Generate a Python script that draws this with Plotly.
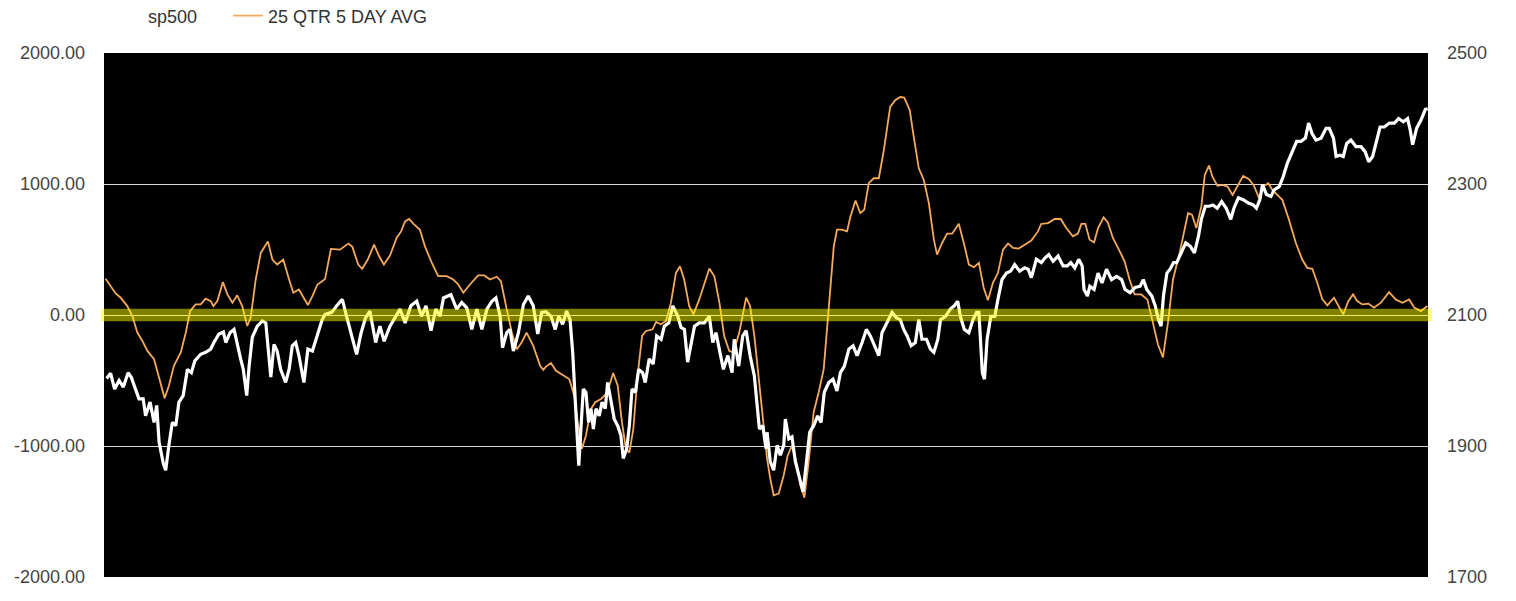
import plotly.graph_objects as go

# ---- data (trading-day index) ----
sp_day = [1.0, 2.5, 4.0, 5.7, 7.3, 9.1, 10.3, 12.0, 13.2, 14.8, 15.7, 17.4, 18.9, 19.9, 20.8, 22.4, 23.3, 24.5,
          25.8, 27.1, 28.3, 29.9, 31.5, 33.0, 34.3, 36.5, 38.4, 40.3, 41.5, 43.4, 45.1, 46.0, 47.6, 49.1, 50.3,
          51.6, 52.6, 53.9, 54.8, 56.0, 57.9, 59.8, 61.1, 61.7, 63.0, 64.2, 65.4, 66.7, 68.6, 69.9, 71.1, 72.4,
          73.6, 75.5, 77.0, 78.7, 80.6, 82.4, 83.5, 86.0, 87.9, 90.0, 91.6, 93.3, 95.4, 97.1, 98.8, 100.4, 102.6,
          104.2, 105.8, 108.0, 109.9, 111.8, 113.7, 115.9, 118.1, 119.9, 121.6, 123.5, 125.3, 126.9, 128.2, 131.0,
          133.2, 135.1, 137.0, 138.9, 140.8, 142.7, 144.6, 146.5, 148.0, 149.6, 150.5, 152.1, 153.3, 154.6, 156.5,
          158.4, 160.2, 162.1, 163.8, 165.3, 166.9, 168.8, 170.4, 171.7, 173.2, 174.7, 176.0, 177.0, 178.0, 179.3,
          180.1, 181.0, 182.0, 183.0, 183.9, 184.8, 185.8, 187.0, 188.1, 189.3, 190.2, 191.5, 192.7, 194.0, 195.2,
          196.1, 197.4, 198.4, 199.4, 200.7, 201.9, 203.4, 204.4, 205.9, 207.4, 208.7, 210.4, 211.6, 213.3, 214.8,
          216.7, 217.9, 219.2, 220.4, 221.7, 223.0, 224.8, 226.7, 228.6, 229.9, 231.1, 232.4, 233.9, 235.6, 237.2,
          238.0, 239.7, 241.2, 242.5, 244.0, 245.6, 247.5, 248.8, 250.0, 250.4, 251.6, 252.9, 254.2, 255.4, 256.7,
          257.3, 258.6, 259.8, 261.1, 262.4, 264.0, 265.3, 266.5, 268.0, 269.5, 270.8, 272.0, 273.7, 275.3, 276.8,
          278.1, 279.6, 281.3, 282.9, 284.4, 286.3, 287.9, 289.4, 290.9, 292.6, 293.8, 295.5, 297.6, 299.2, 300.7,
          302.0, 303.3, 304.8, 306.4, 307.7, 308.9, 310.6, 312.1, 313.4, 314.9, 315.9, 317.8, 319.6, 321.1, 322.4,
          323.4, 324.9, 326.6, 328.2, 329.5, 330.4, 331.7, 332.5, 333.5, 334.9, 336.4, 337.6, 339.1, 340.8, 342.4,
          343.9, 345.8, 347.7, 349.0, 350.2, 352.1, 354.0, 355.3, 356.8, 358.4, 360.3, 362.2, 363.8, 365.1, 366.6,
          368.1, 369.4, 370.1, 371.4, 372.3, 373.9, 375.4, 376.9, 378.6, 380.5, 382.4, 384.3, 385.6, 387.5, 389.4,
          391.3, 392.5, 393.8, 395.7, 397.0, 398.2, 399.2, 400.1, 401.4, 402.6, 403.9, 405.1, 406.8, 408.5, 410.2,
          411.8, 413.3, 414.4, 415.9, 417.3, 418.8, 420.4, 422.1, 423.8, 425.5, 426.7, 428.4, 430.2, 432.2, 434.0,
          435.2, 436.5, 437.5, 439.0, 440.7, 441.9, 443.8, 445.3, 446.9, 448.6, 450.4, 452.0, 453.7, 454.9, 456.2,
          457.7, 459.6, 461.5, 462.7, 464.3, 465.3, 466.8, 468.0, 469.3, 470.9, 472.8, 474.7, 476.3, 477.6, 479.1,
          480.4, 481.9, 483.5, 485.4, 487.3, 488.9, 490.7, 492.3, 493.3, 494.2, 495.7, 497.4, 499.0, 499.9]
sp_val = [2003, 2011, 1987, 2000, 1990, 2012, 2005, 1984, 1972, 1972, 1946, 1967, 1936, 1962, 1906, 1873, 1863, 1901,
          1936, 1931, 1967, 1977, 2017, 2012, 2030, 2040, 2043, 2048, 2058, 2071, 2074, 2058, 2073, 2078, 2055,
          2033, 2017, 1977, 2022, 2066, 2083, 2091, 2088, 2060, 2005, 2055, 2045, 2017, 1997, 2017, 2053, 2058,
          2038, 1997, 2048, 2045, 2068, 2093, 2101, 2104, 2114, 2124, 2098, 2073, 2040, 2073, 2096, 2106, 2058,
          2083, 2060, 2083, 2096, 2109, 2088, 2114, 2121, 2098, 2114, 2076, 2109, 2098, 2126, 2131,
          2109, 2119, 2111, 2078, 2109, 2078, 2109, 2121, 2126, 2098, 2050, 2073, 2078, 2045, 2073,
          2116, 2129, 2114, 2071, 2104, 2105, 2098, 2078, 2098, 2086, 2106, 2093, 2043, 1967, 1870,
          1926, 1987, 1982, 1936, 1957, 1926, 1957, 1946, 1967, 1957, 1997, 1967, 1941, 1931, 1916,
          1881, 1896, 1931, 1987, 1982, 2017, 2012, 1997, 2033, 2025, 2068, 2063, 2083, 2088, 2114,
          2098, 2081, 2078, 2028, 2058, 2083, 2088, 2088, 2098, 2058, 2073, 2048, 2017, 2038, 2012,
          2063, 2022, 2068, 2076, 2038, 2007, 1926, 1931, 1896, 1921, 1876, 1863, 1901, 1886, 1901,
          1941, 1911, 1914, 1876, 1855, 1830, 1876, 1921, 1931, 1946, 1936, 1982, 1997, 2002, 1984,
          2012, 2022, 2048, 2053, 2038, 2058, 2078, 2068, 2053, 2038, 2073, 2088, 2104, 2096, 2093,
          2078, 2068, 2053, 2058, 2093, 2063, 2063, 2048, 2043, 2063, 2093, 2098, 2109, 2114, 2121,
          2098, 2078, 2073, 2093, 2104, 2104, 2012, 2002, 2063, 2098, 2098, 2124, 2154, 2164, 2167,
          2177, 2167, 2172, 2170, 2157, 2185, 2180, 2187, 2192, 2182, 2190, 2175, 2175, 2180, 2172,
          2185, 2175, 2139, 2129, 2144, 2139, 2164, 2149, 2170, 2154, 2159, 2154, 2139, 2134, 2142,
          2144, 2154, 2139, 2129, 2114, 2093, 2083, 2129, 2164, 2170, 2180, 2180, 2195, 2210, 2205,
          2195, 2220, 2246, 2266, 2266, 2268, 2263, 2273, 2263, 2246, 2263, 2279, 2276, 2271, 2268,
          2263, 2276, 2299, 2284, 2281, 2291, 2296, 2311, 2332, 2349, 2365, 2365, 2370, 2393, 2377,
          2367, 2370, 2385, 2385, 2370, 2342, 2344, 2342, 2362, 2367, 2357, 2357, 2349, 2334, 2342,
          2362, 2387, 2387, 2393, 2393, 2400, 2395, 2400, 2382, 2360, 2385, 2398, 2414, 2415]

avg_day = [0.6, 2.5, 4.4, 6.3, 8.8, 10.7, 12.6, 14.5, 16.4, 18.9, 20.8, 22.9, 24.5, 26.4, 29.0, 30.9, 32.5, 34.6,
           36.5, 38.4, 40.3, 41.3, 42.8, 44.9, 46.6, 48.5, 50.3, 52.2, 54.1, 55.4, 57.3, 59.2, 61.9, 63.6, 65.4,
           67.7, 69.9, 71.5, 73.6, 75.5, 77.0, 78.7, 80.6, 82.4, 83.5, 85.7, 89.1, 92.3, 93.8, 96.0, 97.5, 99.6,
           102.0, 103.9, 105.7, 108.0, 110.5, 112.2, 113.7, 115.2, 116.8, 119.3, 121.2, 123.8, 126.2, 129.4, 131.9,
           133.8, 135.7, 138.2, 141.3, 143.6, 145.8, 148.3, 149.9, 152.1, 154.0, 155.9, 157.7, 159.6, 162.1, 164.7,
           165.9, 166.9, 168.8, 170.7, 173.2, 175.7, 177.6, 178.9, 180.5, 182.0, 183.9, 185.5, 187.7, 189.6, 190.8,
           192.3, 194.0, 195.6, 197.1, 198.4, 199.9, 201.5, 203.2, 204.7, 207.2, 208.5, 210.3, 212.2, 214.1, 216.0,
           217.5, 219.1, 221.0, 222.6, 224.8, 227.1, 228.6, 230.5, 232.4, 234.2, 236.1, 237.7, 239.9, 242.5, 244.0,
           245.6, 247.5, 249.4, 250.4, 251.6, 252.9, 254.8, 256.7, 258.2, 259.8, 261.7, 263.0, 264.5, 266.1, 268.0,
           269.9, 271.8, 273.1, 274.3, 275.6, 276.8, 278.7, 280.6, 281.9, 283.8, 285.6, 287.1, 288.8, 290.7, 292.6,
           294.4, 296.9, 298.8, 300.7, 302.2, 304.3, 305.8, 307.7, 309.6, 311.5, 313.4, 314.6, 316.5, 318.4, 320.3,
           322.8, 324.7, 326.6, 328.5, 330.4, 332.2, 333.8, 335.7, 337.6, 339.5, 341.4, 343.3, 345.4, 347.7, 350.2,
           352.7, 353.9, 356.5, 359.0, 361.3, 363.4, 365.9, 367.8, 369.1, 370.6, 372.2, 373.9, 375.4, 377.5, 379.1,
           381.0, 383.6, 385.4, 387.3, 389.2, 391.7, 394.0, 396.1, 398.0, 399.9, 401.8, 403.7, 406.2, 409.4, 410.9,
           412.5, 414.4, 415.7, 417.3, 418.6, 420.5, 422.4, 424.3, 426.2, 428.0, 430.2, 432.4, 434.3, 436.2, 438.1,
           439.7, 441.2, 443.1, 445.0, 447.5, 450.1, 452.5, 454.4, 456.3, 458.2, 460.1, 462.0, 464.5, 466.4, 468.0,
           469.9, 471.7, 473.3, 475.2, 477.5, 479.6, 482.2, 485.3, 487.8, 490.3, 492.9, 494.8, 497.3, 499.8]
avg_val = [277, 220, 165, 132, 68, -8, -134, -198, -274, -337, -489, -635, -540, -388, -286, -134, 30, 81,
           81, 125, 106, 68, 106, 251, 157, 94, 150, 68, -84, -20, 271, 474, 562, 423, 385,
           423, 271, 170, 195, 132, 76, 144, 233, 258, 276, 505, 499, 545, 520, 385, 353, 423,
           537, 448, 385, 454, 588, 638, 714, 733, 697, 651, 524, 398, 296, 296, 271,
           233, 170, 233, 302, 302, 271, 292, 258, 43, -134, -261, -210, -134, -236, -388,
           -418, -394, -367, -426, -458, -489, -616, -818, -1021, -920, -717, -666, -641, -603, -540,
           -443, -540, -818, -1021, -1051, -869, -464, -160, -122, -109, -53, -71, -46, 94, 322,
           372, 271, 68, 5, 119, 271, 355, 296, 94, -160, -274, -286, -134, 132, 68,
           -160, -540, -920, -1097, -1249, -1376, -1363, -1224, -1072, -996, -1148, -1300, -1395, -1122, -742,
           -590, -413, -109, 195, 524, 651, 651, 638, 752, 874, 778, 803, 1006, 1044, 1044,
           1246, 1588, 1639, 1664, 1660, 1563, 1360, 1120, 1031, 854, 575, 461, 550, 621, 621,
           697, 550, 385, 365, 398, 208, 112, 246, 322, 499, 545, 512, 507, 537, 568,
           638, 695, 702, 733, 733, 664, 600, 621, 695, 695, 575, 555, 664, 745, 707,
           588, 486, 410, 271, 157, 157, 119, -58, -223, -324, -58, 271, 474, 778, 765,
           664, 828, 1069, 1141, 1056, 986, 993, 980, 917, 980, 1062, 1037, 986, 892, 986,
           1006, 955, 917, 879, 727, 550, 423, 360, 353, 246, 119, 74, 132, 68, 5,
           106, 157, 106, 81, 87, 56, 94, 175, 119, 94, 119, 56, 30, 68]

left_ticks = [-2000, -1000, 0, 1000, 2000]
left_labels = ["-2000.00", "-1000.00", "0.00", "1000.00", "2000.00"]
right_ticks = [1700, 1900, 2100, 2300, 2500]
right_labels = ["1700", "1900", "2100", "2300", "2500"]

font_family = "Liberation Sans, Arial, sans-serif"
label_color = "#444444"

fig = go.Figure()
fig.add_trace(go.Scatter(x=sp_day, y=sp_val, name="sp500", mode="lines",
                         line=dict(color="#ffffff", width=3.2), yaxis="y2", legend="legend"))
fig.add_trace(go.Scatter(x=avg_day, y=avg_val, name="25 QTR 5 DAY AVG", mode="lines",
                         line=dict(color="#f5a95b", width=1.8), yaxis="y", legend="legend2"))

# yellow band around zero
fig.add_shape(type="rect", xref="paper", yref="y", x0=-0.0023, x1=1.003, y0=-48, y1=48,
              fillcolor="rgba(255,255,0,0.5)", line=dict(width=0), layer="above")

legend_common = dict(orientation="h", xanchor="left", y=1.0706, yanchor="middle",
                     font=dict(size=18, color="#333333"), bgcolor="rgba(0,0,0,0)")

fig.update_layout(
    width=1500, height=585,
    margin=dict(l=96, r=80, t=45, b=16, autoexpand=False),
    paper_bgcolor="white", plot_bgcolor="black",
    font=dict(family=font_family, size=18, color=label_color),
    showlegend=True,
    legend=dict(x=0.003, **legend_common),
    legend2=dict(x=0.0937, **legend_common),
    xaxis=dict(range=[0, 500], visible=False, showgrid=False, zeroline=False),
    yaxis=dict(range=[-2000, 2000], tickvals=left_ticks, ticktext=left_labels,
               showgrid=True, gridcolor="#d8d8d8", gridwidth=1, zeroline=False,
               ticks="", ticklabelstandoff=18, tickfont=dict(size=18, color=label_color)),
    yaxis2=dict(range=[1700, 2500], tickvals=right_ticks, ticktext=right_labels,
                overlaying="y", side="right", showgrid=False, zeroline=False,
                ticks="", ticklabelstandoff=18, tickfont=dict(size=18, color=label_color)),
)

fig.write_html("out.html")
